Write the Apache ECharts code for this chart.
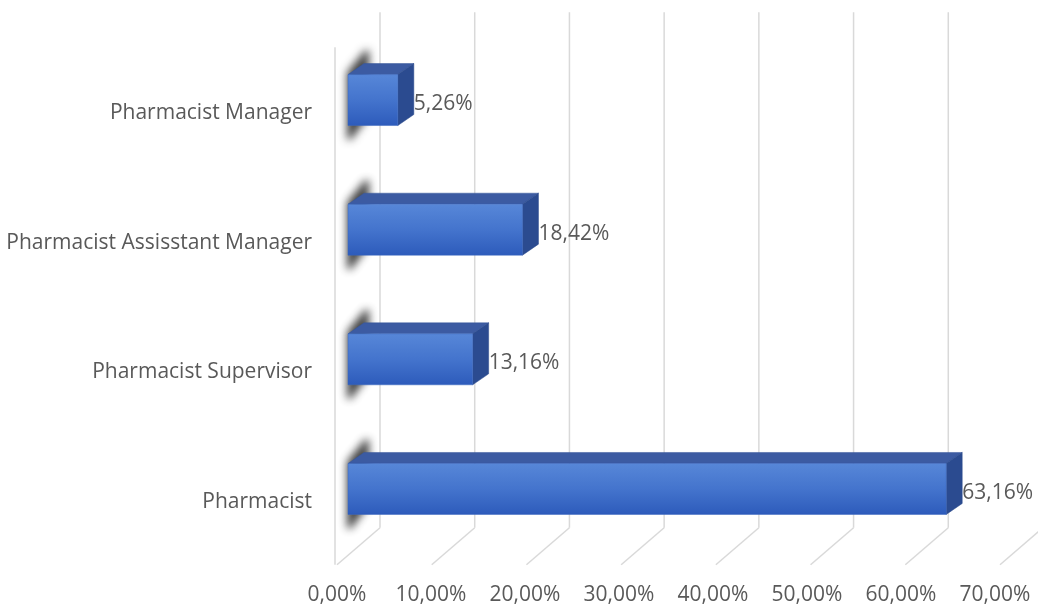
<!DOCTYPE html>
<html>
<head>
<meta charset="utf-8">
<script src="https://cdn.jsdelivr.net/npm/echarts@6/dist/echarts.min.js"></script>
<style>
html,body{margin:0;padding:0;background:#fff;}
#chart{width:1038px;height:609px;}
</style>
</head>
<body>
<div id="chart"></div>
<script>
const categories = ['Pharmacist Manager', 'Pharmacist Assisstant Manager', 'Pharmacist Supervisor', 'Pharmacist'];
const values = [5.26, 18.42, 13.16, 63.16];
const tickValues = [0, 10, 20, 30, 40, 50, 60, 70];
const tickLabels = ['0,00%', '10,00%', '20,00%', '30,00%', '40,00%', '50,00%', '60,00%', '70,00%'];
const valueLabels = ['5,26%', '18,42%', '13,16%', '63,16%'];

const FONT = '"Open Sans", "Noto Sans", sans-serif';
const TEXT = '#595959';
const GRID = '#d9d9d9';

const chart = echarts.init(document.getElementById('chart'), null, {renderer: 'canvas'});

function renderGridlines(params, api) {
  const v = api.value(0);
  const cs = params.coordSys;
  const x = api.coord([v, 0])[0] + 32;
  const top = cs.y - 23;
  const bot = cs.y + cs.height - 26;
  const style = {stroke: GRID, lineWidth: 1.5, fill: null};
  const children = [
    {type: 'line', shape: {x1: x, y1: top, x2: x, y2: bot}, style: style},
    {type: 'line', shape: {x1: x, y1: bot, x2: x - 43, y2: bot + 37}, style: style}
  ];
  if (params.dataIndex === 0) {
    children.push({type: 'line', shape: {x1: x - 45, y1: top + 35, x2: x - 45, y2: bot + 37}, style: style});
  }
  return {type: 'group', children: children};
}

function renderBars(params, api) {
  const v = api.value(0);
  const c = api.value(1);
  const p0 = api.coord([0, c]);
  const p1 = api.coord([v, c]);
  const h = 51, dx = 16, dy = -11;
  const x0 = p0[0], x1 = p1[0];
  const yT = p0[1] - h / 2, yB = yT + h;
  const off = 2000;
  const sh = [[x0 - 1, yT - 2], [x0 + 17, yT - 24], [x0 + 21, yT - 24], [x0 + 21, yB - 10], [x0 + 3, yB + 14], [x0 - 1, yB + 14]]
    .map(function (p) { return [p[0] - off, p[1]]; });
  return {
    type: 'group',
    children: [
      // blurred shadow on the side wall (only the shadow lands on screen)
      {type: 'polygon', shape: {points: sh},
       style: {fill: '#000', shadowBlur: 9, shadowColor: 'rgba(45,45,45,0.9)', shadowOffsetX: off, shadowOffsetY: 0}},
      // top face
      {type: 'polygon', shape: {points: [[x0, yT], [x1, yT], [x1 + dx, yT + dy], [x0 + dx, yT + dy]]},
       style: {fill: '#3c5ba2', stroke: '#36569a', lineWidth: 0.5}},
      // right face
      {type: 'polygon', shape: {points: [[x1, yT], [x1 + dx, yT + dy], [x1 + dx, yB + dy], [x1, yB]]},
       style: {fill: '#2b4b90', stroke: '#29498a', lineWidth: 0.5}},
      // front face
      {type: 'rect', shape: {x: x0, y: yT, width: x1 - x0, height: h},
       style: {
         fill: new echarts.graphic.LinearGradient(0, 0, 0, 1, [
           {offset: 0, color: '#5787d8'},
           {offset: 0.5, color: '#4474cd'},
           {offset: 1, color: '#2d5bbb'}
         ]),
         stroke: '#3a66bf', lineWidth: 0.5
       }},
      // value label
      {type: 'text', x: x1 + dx, y: yT + h / 2 + 4,
       style: {text: valueLabels[params.dataIndex], fill: TEXT, font: '21px ' + FONT, textAlign: 'left', textVerticalAlign: 'middle'}}
    ]
  };
}

const option = {
  backgroundColor: '#ffffff',
  animation: false,
  grid: [
    {left: 348, right: 27, top: 35.2, bottom: 55.2},
    {left: 337, right: 43, top: 35.2, bottom: 55.2}
  ],
  xAxis: [
    {gridIndex: 0, type: 'value', min: 0, max: 70, interval: 10, show: false},
    {gridIndex: 1, type: 'value', min: 0, max: 70, interval: 10,
     axisLine: {show: false}, axisTick: {show: false}, splitLine: {show: false},
     axisLabel: {show: true, margin: 31, color: TEXT, fontSize: 21, fontFamily: FONT, lineHeight: 21,
       formatter: function (v) { const i = tickValues.indexOf(v); return i >= 0 ? tickLabels[i] : ''; }}}
  ],
  yAxis: [
    {gridIndex: 0, type: 'category', data: categories, inverse: true,
     axisLine: {show: false}, axisTick: {show: false}, splitLine: {show: false},
     axisLabel: {margin: 36, color: TEXT, fontSize: 21, fontFamily: FONT,
       formatter: function (v) { return '{a|' + v + '}'; },
       rich: {a: {color: TEXT, fontSize: 21, fontFamily: FONT, lineHeight: 24, padding: [26, 0, 0, 0]}}}},
    {gridIndex: 1, type: 'category', data: categories, inverse: true, show: false}
  ],
  series: [
    {type: 'custom', xAxisIndex: 0, yAxisIndex: 0, clip: false, silent: true,
     data: tickValues.map(function (v) { return [v, 0]; }),
     encode: {x: 0, y: 1}, renderItem: renderGridlines, z: 1},
    {type: 'custom', xAxisIndex: 0, yAxisIndex: 0, clip: false,
     data: values.map(function (v, i) { return [v, i]; }),
     encode: {x: 0, y: 1}, renderItem: renderBars, z: 2}
  ]
};
chart.setOption(option);
</script>
</body>
</html>
